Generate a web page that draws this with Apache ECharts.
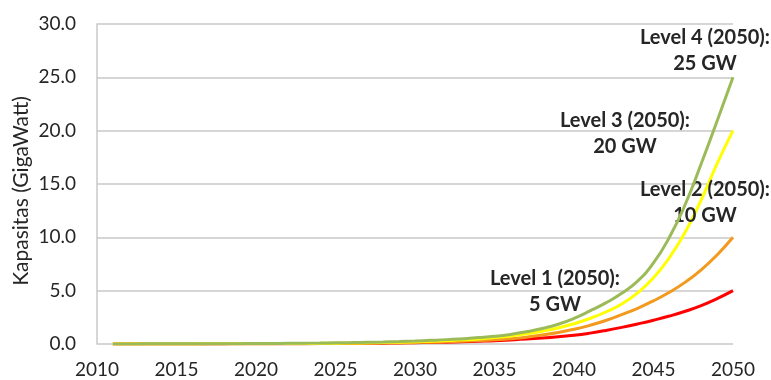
<!DOCTYPE html>
<html>
<head>
<meta charset="utf-8">
<script src="https://cdn.jsdelivr.net/npm/echarts@6/dist/echarts.min.js"></script>
<style>
  html, body { margin: 0; padding: 0; background: #fff; }
  #chart { width: 771px; height: 380px; }
</style>
</head>
<body>
<div id="chart"></div>
<script>
// Projected installed capacity (GW), 2011-2050, for four scenario levels
const years = [2011, 2012, 2013, 2014, 2015, 2016, 2017, 2018, 2019, 2020,
               2021, 2022, 2023, 2024, 2025, 2026, 2027, 2028, 2029, 2030,
               2031, 2032, 2033, 2034, 2035, 2036, 2037, 2038, 2039, 2040,
               2041, 2042, 2043, 2044, 2045, 2046, 2047, 2048, 2049, 2050];

const level1 = [0.003, 0.003, 0.004, 0.005, 0.006, 0.007, 0.009, 0.011, 0.013, 0.016,
                0.02, 0.025, 0.03, 0.037, 0.045, 0.054, 0.066, 0.08, 0.10, 0.12,
                0.14, 0.17, 0.21, 0.26, 0.31, 0.38, 0.46, 0.56, 0.68, 0.82,
                1.02, 1.27, 1.56, 1.88, 2.23, 2.62, 3.07, 3.6, 4.25, 5];

const level2 = [0.003, 0.004, 0.005, 0.006, 0.007, 0.009, 0.011, 0.013, 0.016, 0.019,
                0.024, 0.029, 0.035, 0.043, 0.052, 0.064, 0.078, 0.095, 0.115, 0.14,
                0.17, 0.21, 0.26, 0.32, 0.40, 0.50, 0.64, 0.84, 1.08, 1.38,
                1.75, 2.2, 2.75, 3.35, 4.05, 4.85, 5.8, 6.95, 8.35, 10];

const level3 = [0.004, 0.005, 0.006, 0.007, 0.009, 0.011, 0.014, 0.017, 0.021, 0.026,
                0.032, 0.04, 0.05, 0.06, 0.075, 0.09, 0.11, 0.14, 0.17, 0.21,
                0.26, 0.32, 0.39, 0.48, 0.6, 0.75, 0.95, 1.2, 1.5, 1.9,
                2.4, 3.0, 3.75, 4.8, 6.2, 8.1, 10.5, 13.5, 16.9, 20];

const level4 = [0.008, 0.01, 0.012, 0.015, 0.018, 0.02, 0.025, 0.03, 0.035, 0.04,
                0.05, 0.06, 0.075, 0.09, 0.11, 0.13, 0.16, 0.19, 0.23, 0.28,
                0.34, 0.41, 0.50, 0.60, 0.72, 0.90, 1.15, 1.45, 1.85, 2.4,
                3.1, 3.85, 4.75, 5.9, 7.6, 10.0, 13.1, 16.9, 20.9, 25];

const levelNames = ['Level 1', 'Level 2', 'Level 3', 'Level 4'];
const xTicks = [2010, 2015, 2020, 2025, 2030, 2035, 2040, 2045, 2050];
const yTicks = [0, 5, 10, 15, 20, 25, 30];

const FONT = 'Lato';
const TEXT = '#262626';

const chart = echarts.init(document.getElementById('chart'), null, { renderer: 'canvas' });

function pairs(vals) {
  return vals.map((v, i) => [years[i], v]);
}

// callout text anchored to the 2050 point of each series
function endNote(vals, name, offset) {
  const last = vals[vals.length - 1];
  const yr = years[years.length - 1];
  return {
    symbol: 'circle',
    symbolSize: 0,
    silent: true,
    itemStyle: { color: 'transparent' },
    data: [{ coord: [yr, last], value: last }],
    label: {
      show: true,
      position: 'inside',
      offset: offset,
      formatter: name + ' (' + yr + '):\n' + last + ' GW',
      fontFamily: FONT,
      fontWeight: 'bold',
      fontSize: 20,
      lineHeight: 26.5,
      color: TEXT,
      align: 'center'
    }
  };
}

function lineSeries(vals, color, idx, offset) {
  return {
    type: 'line',
    name: levelNames[idx],
    data: pairs(vals),
    smooth: true,
    showSymbol: false,
    lineStyle: { color: color, width: 3 },
    itemStyle: { color: color },
    z: 2 + idx,
    markPoint: endNote(vals, levelNames[idx], offset)
  };
}

chart.setOption({
  animation: false,
  backgroundColor: '#ffffff',
  grid: { left: 97, right: 38, top: 24, bottom: 36 },
  xAxis: {
    type: 'value',
    min: xTicks[0],
    max: xTicks[xTicks.length - 1],
    interval: xTicks[1] - xTicks[0],
    axisLine: { show: false },
    axisTick: { show: false },
    splitLine: { show: false },
    axisLabel: {
      margin: 16,
      fontFamily: FONT,
      fontSize: 19,
      color: TEXT,
      formatter: v => String(v)
    }
  },
  yAxis: {
    type: 'value',
    min: yTicks[0],
    max: yTicks[yTicks.length - 1],
    interval: yTicks[1] - yTicks[0],
    axisLine: { show: true, lineStyle: { color: '#c8c8c8', width: 1.5 } },
    axisTick: { show: false },
    splitLine: { show: true, lineStyle: { color: '#c8c8c8', width: 1.5 } },
    axisLabel: {
      margin: 21,
      fontFamily: FONT,
      fontSize: 19,
      color: TEXT,
      formatter: v => v.toFixed(1)
    }
  },
  graphic: [{
    type: 'text',
    rotation: Math.PI / 2,
    x: 21,
    y: 191,
    style: {
      text: 'Kapasitas (GigaWatt)',
      fontFamily: FONT,
      fontSize: 21,
      fill: TEXT,
      align: 'center',
      verticalAlign: 'middle'
    }
  }],
  series: [
    lineSeries(level1, '#ff0000', 0, [-178, 1]),
    lineSeries(level2, '#f39a1e', 1, [-28, -35]),
    lineSeries(level3, '#ffff00', 2, [-108, 3]),
    lineSeries(level4, '#9bbb59', 3, [-28, -27])
  ]
});
</script>
</body>
</html>
